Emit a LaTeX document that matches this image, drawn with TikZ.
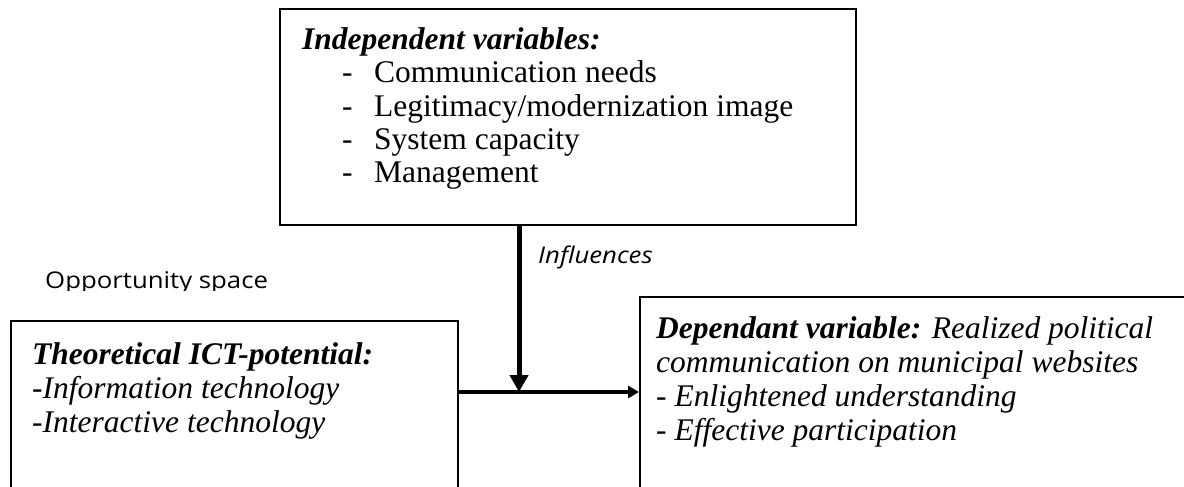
\documentclass[tikz,border=0pt]{standalone}
\usepackage{fontspec}
\setmainfont{Liberation Serif}
\newfontfamily\handfont[FakeStretch=1.12]{Open Sans}
\usetikzlibrary{arrows.meta}
\tikzset{
  box/.style={draw=black, line width=2pt, fill=white, inner sep=0pt, anchor=north west},
  txt/.style={anchor=base west, inner sep=0pt, font=\fontsize{31.5}{34}\selectfont},
  hand/.style={anchor=base west, inner sep=0pt},
}
\begin{document}
\begin{tikzpicture}[x=1pt,y=-1pt]
\clip (0,0) rectangle (1184,487);
\fill[white] (0,0) rectangle (1184,487);
% boxes
\node[box, minimum width=576pt, minimum height=216pt] (top) at (279,8) {};
\node[box, minimum width=447pt, minimum height=200pt] (left) at (10,320) {};
\node[box, minimum width=600pt, minimum height=220pt] (right) at (639,296) {};
% top box text
\node[txt] (t0) at (302,50) {\textbf{\textit{Independent variables:}}};
\node[txt] (d1) at (342,83) {-};
\node[txt] (t1) at (374,83) {Communication needs};
\node[txt] (d2) at (342,116) {-};
\node[txt] (t2) at (374,116) {Legitimacy/modernization image};
\node[txt] (d3) at (342,149) {-};
\node[txt] (t3) at (374,149) {System capacity};
\node[txt] (d4) at (342,182) {-};
\node[txt] (t4) at (374,182) {Management};
% left box text
\node[txt] (l0) at (32,364) {\textbf{\textit{Theoretical ICT-potential:}}};
\node[txt] (l1) at (32,398) {\textit{-Information technology}};
\node[txt] (l2) at (32,432) {\textit{-Interactive technology}};
% right box text
\node[txt] (r0) at (656,338) {\textbf{\textit{Dependant variable:}} \textit{Realized political}};
\node[txt] (r1) at (656,372) {\textit{communication on municipal websites}};
\node[txt] (r2) at (656,406) {\textit{- Enlightened understanding}};
\node[txt] (r3) at (656,440) {\textit{- Effective participation}};
% labels
\node[hand, font=\handfont\itshape\fontsize{23}{26}\selectfont] (infl) at (538,263) {Influences};
\begin{scope}
\clip (0,240) rectangle (320,290);
\node[hand, font=\handfont\fontsize{23}{26}\selectfont] (opp) at (45,288) {Opportunity space};
\end{scope}
% connectors
\coordinate (j) at (519,392);
\draw[line width=3.5pt, -{Triangle[length=11pt,width=12pt]}] (left.east |- j) -- (right.west |- j);
\draw[line width=5pt, -{Triangle[length=17pt,width=18pt]}] (top.south -| j) -- (j);
\end{tikzpicture}
\end{document}
